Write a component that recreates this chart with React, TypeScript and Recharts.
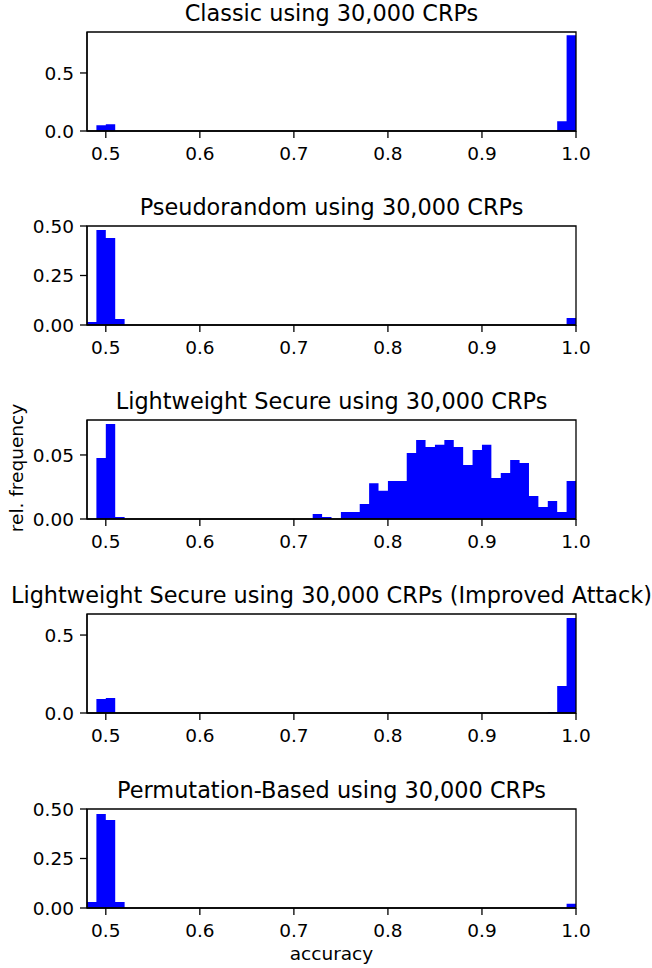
import React from 'react'
import { AreaChart, Area, XAxis, YAxis, ReferenceArea } from 'recharts'

// left edges of the 0.01-wide histogram bins, plus the final right edge
const BIN_EDGES = [
  0.48, 0.49, 0.5, 0.51, 0.52, 0.53, 0.54, 0.55, 0.56, 0.57,
  0.58, 0.59, 0.6, 0.61, 0.62, 0.63, 0.64, 0.65, 0.66, 0.67,
  0.68, 0.69, 0.7, 0.71, 0.72, 0.73, 0.74, 0.75, 0.76, 0.77,
  0.78, 0.79, 0.8, 0.81, 0.82, 0.83, 0.84, 0.85, 0.86, 0.87,
  0.88, 0.89, 0.9, 0.91, 0.92, 0.93, 0.94, 0.95, 0.96, 0.97,
  0.98, 0.99, 1.0,
]

const X_TICKS = [0.5, 0.6, 0.7, 0.8, 0.9, 1.0]

// rel. frequency per bin (52 bins, 0.48 .. 1.00)
const CLASSIC = [
  0, 0.049, 0.058, 0, 0, 0, 0, 0, 0, 0,
  0, 0, 0, 0, 0, 0, 0, 0, 0, 0,
  0, 0, 0, 0, 0, 0, 0, 0, 0, 0,
  0, 0, 0, 0, 0, 0, 0, 0, 0, 0,
  0, 0, 0, 0, 0, 0, 0, 0, 0, 0,
  0.083, 0.825,
]

const PSEUDORANDOM = [
  0.015, 0.48, 0.44, 0.03, 0, 0, 0, 0, 0, 0,
  0, 0, 0, 0, 0, 0, 0, 0, 0, 0,
  0, 0, 0, 0, 0, 0, 0, 0, 0, 0,
  0, 0, 0, 0, 0, 0, 0, 0, 0, 0,
  0, 0, 0, 0, 0, 0, 0, 0, 0, 0,
  0, 0.035,
]

const LIGHTWEIGHT = [
  0, 0.0477, 0.0742, 0.0016, 0, 0, 0, 0, 0, 0,
  0, 0, 0, 0, 0, 0, 0, 0, 0, 0,
  0, 0, 0, 0, 0.0039, 0.0016, 0, 0.0055, 0.0055, 0.0117,
  0.028, 0.022, 0.0297, 0.0297, 0.0516, 0.0617, 0.0563, 0.058, 0.0617, 0.0563,
  0.0422, 0.0539, 0.058, 0.032, 0.036, 0.046, 0.0438, 0.018, 0.0094, 0.014,
  0.0055, 0.0297,
]

const LIGHTWEIGHT_IMPROVED = [
  0, 0.09, 0.096, 0, 0, 0, 0, 0, 0, 0,
  0, 0, 0, 0, 0, 0, 0, 0, 0, 0,
  0, 0, 0, 0, 0, 0, 0, 0, 0, 0,
  0, 0, 0, 0, 0, 0, 0, 0, 0, 0,
  0, 0, 0, 0, 0, 0, 0, 0, 0, 0.006,
  0.173, 0.61,
]

const PERMUTATION = [
  0.03, 0.475, 0.445, 0.03, 0, 0, 0, 0, 0, 0,
  0, 0, 0, 0, 0, 0, 0, 0, 0, 0,
  0, 0, 0, 0, 0, 0, 0, 0, 0, 0,
  0, 0, 0, 0, 0, 0, 0, 0, 0, 0,
  0, 0, 0, 0, 0, 0, 0, 0, 0, 0,
  0, 0.022,
]

const PANELS = [
  { title: 'Classic using 30,000 CRPs', values: CLASSIC, yMax: 0.853, yTicks: [0, 0.5], digits: 1 },
  { title: 'Pseudorandom using 30,000 CRPs', values: PSEUDORANDOM, yMax: 0.5, yTicks: [0, 0.25, 0.5], digits: 2 },
  { title: 'Lightweight Secure using 30,000 CRPs', values: LIGHTWEIGHT, yMax: 0.0773, yTicks: [0, 0.05], digits: 2 },
  { title: 'Lightweight Secure using 30,000 CRPs (Improved Attack)', values: LIGHTWEIGHT_IMPROVED, yMax: 0.635, yTicks: [0, 0.5], digits: 1 },
  { title: 'Permutation-Based using 30,000 CRPs', values: PERMUTATION, yMax: 0.5, yTicks: [0, 0.25, 0.5], digits: 2 },
]

const FONT = "'DejaVu Sans', sans-serif"
const PLOT_TOPS = [32, 226, 420, 614, 809]
const TICK_STYLE = { fontSize: 18.5, fill: '#000', fontFamily: FONT }

function Panel({ panel, top }: { panel: typeof PANELS[number]; top: number }) {
  // step data: each edge carries the value of the bin that starts there
  const data = BIN_EDGES.map((x, i) => ({
    x,
    v: panel.values[Math.min(i, panel.values.length - 1)],
  }))

  return (
    <>
      <div
        style={{
          position: 'absolute',
          left: 0,
          width: 663,
          top: top - 30,
          textAlign: 'center',
          fontSize: 22.4,
          lineHeight: '22px',
          whiteSpace: 'nowrap',
        }}
      >
        {panel.title}
      </div>
      <div style={{ position: 'absolute', left: 0, top: top - 10 }}>
        <AreaChart
          width={652}
          height={150}
          data={data}
          margin={{ top: 10, right: 76, bottom: 0, left: 27 }}
        >
          <XAxis
            dataKey="x"
            type="number"
            domain={[0.48, 1.0]}
            ticks={X_TICKS}
            allowDataOverflow
            tickFormatter={(t: number) => t.toFixed(1)}
            tick={TICK_STYLE}
            tickSize={7}
            tickMargin={9}
            height={41}
            axisLine={{ stroke: '#000', strokeWidth: 1.3 }}
            tickLine={{ stroke: '#000', strokeWidth: 1.3 }}
          />
          <YAxis
            type="number"
            domain={[0, panel.yMax]}
            ticks={panel.yTicks}
            allowDataOverflow
            tickFormatter={(t: number) => t.toFixed(panel.digits)}
            tick={TICK_STYLE}
            tickSize={7}
            tickMargin={6}
            width={60}
            axisLine={{ stroke: '#000', strokeWidth: 1.3 }}
            tickLine={{ stroke: '#000', strokeWidth: 1.3 }}
          />
          <Area
            dataKey="v"
            type="stepAfter"
            stroke="none"
            fill="#0000ff"
            fillOpacity={1}
            dot={false}
            activeDot={false}
            isAnimationActive={false}
          />
          <ReferenceArea
            x1={0.48}
            x2={1.0}
            y1={0}
            y2={panel.yMax}
            fill="none"
            stroke="#000"
            strokeWidth={1.3}
          />
        </AreaChart>
      </div>
    </>
  )
}

export default function App() {
  return (
    <div
      style={{
        position: 'absolute',
        left: 0,
        top: 0,
        width: 652,
        height: 968,
        background: '#fff',
        fontFamily: FONT,
        color: '#000',
      }}
    >
      {PANELS.map((p, i) => (
        <Panel key={p.title} panel={p} top={PLOT_TOPS[i]} />
      ))}
      <div
        style={{
          position: 'absolute',
          left: 17,
          top: 468,
          transform: 'translate(-50%, -50%) rotate(-90deg)',
          fontSize: 18.5,
          lineHeight: '20px',
          whiteSpace: 'nowrap',
        }}
      >
        rel. frequency
      </div>
      <div
        style={{
          position: 'absolute',
          left: 87,
          width: 489,
          top: 944,
          textAlign: 'center',
          fontSize: 18.5,
          lineHeight: '20px',
        }}
      >
        accuracy
      </div>
    </div>
  )
}
